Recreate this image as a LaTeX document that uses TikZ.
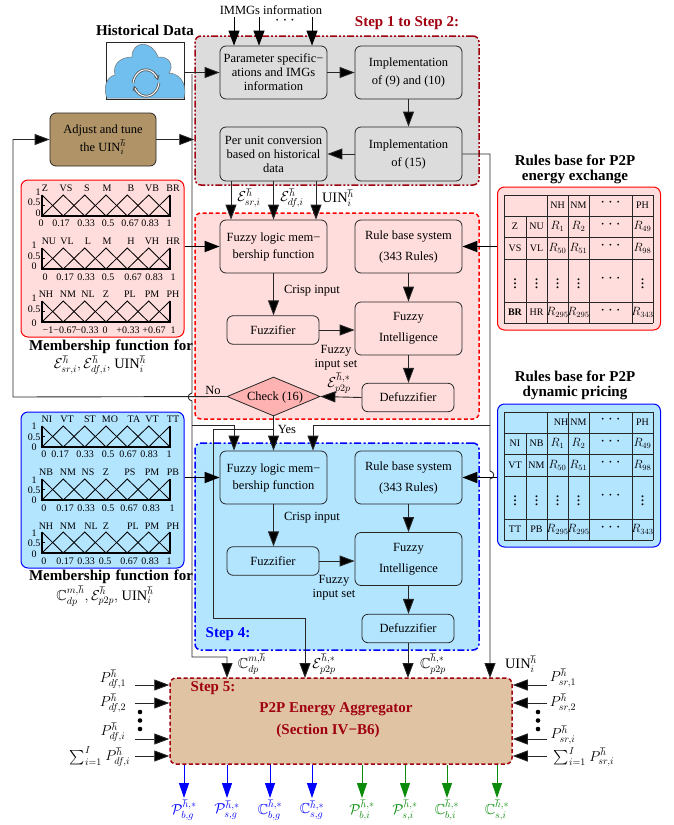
\documentclass[tikz,border=0pt]{standalone}
\usepackage{amssymb}
\usepackage{fontspec}
\setmainfont{Liberation Serif}
\usetikzlibrary{positioning,arrows.meta,shapes}

\definecolor{stepred}{RGB}{160,0,15}
\definecolor{graybg}{RGB}{220,220,220}
\definecolor{pinkbg}{RGB}{255,221,221}
\definecolor{bluebg}{RGB}{179,229,255}
\definecolor{adjbg}{RGB}{176,148,104}
\definecolor{aggbg}{RGB}{223,195,163}
\definecolor{skyblue}{RGB}{112,191,239}
\definecolor{outgreen}{RGB}{10,140,10}

\newcommand{\bigtxt}{\fontsize{12.5}{14}\selectfont}
\newcommand{\midtxt}{\fontsize{10}{11}\selectfont}
\newcommand{\headtxt}{\fontsize{15}{15}\selectfont\bfseries}
\newcommand{\mathbig}{\fontsize{14.4}{16}\selectfont}
\newcommand{\Pdf}[1]{$P^{\hbar}_{df,#1}$}
\newcommand{\Psr}[1]{$P^{\hbar}_{sr,#1}$}
\newcommand{\Uin}{UIN$^{\hbar}_{i}$}

% one membership plot, #1 = top of the plot
\newcommand{\mfgrid}[1]{
  \draw[mfline, line width=1.2pt] (42,#1) -- (42,#1+21) -- (170,#1+21) -- (170,#1);
  \draw[mfline] (42,#1) -- (63.3,#1+21) -- (84.7,#1) -- (106,#1+21) -- (127.3,#1) -- (148.7,#1+21) -- (170,#1);
  \draw[mfline] (42,#1+21) -- (63.3,#1) -- (84.7,#1+21) -- (106,#1) -- (127.3,#1+21) -- (148.7,#1) -- (170,#1+21);
  \draw[mfline] (42,#1+10.5) -- (45,#1+10.5);
}
\newcommand{\mftext}[2]{
  \foreach \px/\txt in {#2} \node[mflbl] (mf#1x\px) at (\px,#1) {\txt};
}
% rules table, #1 = top of the table
\newcommand{\rulestable}[7]{
  \begin{scope}[shift={(0,#1)}]
    \foreach \xa in {504,547,568,589,632,653} \draw[tabline] (\xa,0) -- (\xa,128);
    \draw[tabline] (526,21) -- (526,128);
    \foreach \ya in {0,21,42,64,107,128} \draw[tabline] (504,\ya) -- (653,\ya);
    \node[mflbl] (tab#1nm) at (578.5,10.5) {NM};
    \node[mflbl] (tab#1ph) at (642.5,10.5) {PH};
    \foreach \ya/\tl/\tr/\ra/\rb/\rc in {31.5/#2/#3/1/2/49,53/#4/#5/50/51/98,117.5/#6/#7/295/295/343} {
      \node[mflbl] (tab#1l\ra) at (515,\ya) {\tl};
      \node[mflbl] (tab#1r\ra) at (536.5,\ya) {\tr};
      \node[rtxt] (tab#1a\ra) at (557.5,\ya) {$R_{\ra}$};
      \node[rtxt] (tab#1b\ra) at (578.5,\ya) {$R_{\rb}$};
      \node[rtxt] (tab#1c\ra) at (642.5,\ya) {$R_{\rc}$};
      \node[dotstxt] (tab#1d\ra) at (610.5,\ya-2) {$\cdots$};
    }
    \node[dotstxt] (tab#1top) at (610.5,8) {$\cdots$};
    \node[dotstxt] (tab#1mid) at (610.5,84) {$\cdots$};
    \foreach \xa in {515,536.5,557.5,578.5,642.5} \node[dotstxt] (tab#1v\xa) at (\xa,86) {$\vdots$};
  \end{scope}
}

\begin{document}
\begin{tikzpicture}[
  x=1pt, y=-1pt,
  font=\bigtxt,
  boxnode/.style={rectangle, rounded corners=6pt, draw=black!85, line width=0.8pt, inner sep=0pt,
                  minimum width=107pt, minimum height=53pt, align=center},
  fuzznode/.style={boxnode, minimum width=92pt, minimum height=28.5pt},
  stepbox/.style={rectangle, rounded corners=6pt, inner sep=0pt, line width=1.5pt},
  panel/.style={rectangle, rounded corners=7pt, inner sep=0pt, line width=1pt, minimum width=163pt},
  arr/.style={-{Triangle[length=15pt,width=11pt,fill=black]}, draw=black!85, line width=0.9pt},
  thickarr/.style={arr, draw=black, line width=1.8pt},
  wire/.style={draw=black!85, line width=0.9pt},
  outarr/.style={line width=1pt},
  mfline/.style={draw=black, line width=0.85pt},
  tabline/.style={draw=black!85, line width=0.7pt},
  mflbl/.style={font=\midtxt, inner sep=0pt},
  rtxt/.style={font=\fontsize{12}{14}\selectfont, inner sep=0pt},
  dotstxt/.style={font=\fontsize{16}{17}\selectfont, inner sep=0pt},
  mathlbl/.style={font=\mathbig, inner sep=0pt},
  headlbl/.style={font=\headtxt, inner sep=0pt, align=center}
]
\useasboundingbox (0,0) rectangle (674,825);

% step boxes
\node[stepbox, fill=graybg, draw=stepred, dash pattern=on 7pt off 2pt on 2pt off 2pt on 2pt off 2pt,
      minimum width=284pt, minimum height=149pt] (stepa) at (337,110.5) {};
\node[stepbox, fill=pinkbg, draw=red, dash pattern=on 4pt off 2.5pt,
      minimum width=284pt, minimum height=206pt] (stepb) at (337,316) {};
\node[stepbox, fill=bluebg, draw=blue, dash pattern=on 7pt off 2.5pt on 2pt off 2.5pt,
      minimum width=284pt, minimum height=207pt] (stepc) at (337,546.5) {};
\node[stepbox, fill=aggbg, draw=stepred, dash pattern=on 4pt off 2.5pt, minimum width=342pt, minimum height=86pt,
      align=center, font=\headtxt\color{stepred}] (agg) at (341,721) {};
\node[font=\headtxt\color{stepred}, inner sep=0pt] (aggname) at (336,709) {P2P Energy Aggregator};
\node[font=\headtxt\color{stepred}, inner sep=0pt] (aggsec) at (328,731) {(Section IV−B6)};

\node[headlbl, text=stepred] (stepatxt) at (407,23) {Step 1 to Step 2:};
\node[headlbl, text=blue] (stepctxt) at (228,634) {Step 4:};
\node[headlbl, text=stepred] (stepdtxt) at (213,688) {Step 5:};

% historical data
\node[headlbl] (histtxt) at (145,30) {Historical Data};
\node[rectangle, draw=black!85, line width=0.8pt, inner sep=0pt, fill=white,
      minimum width=78pt, minimum height=57pt] (hist) at (145,70.5) {};
\draw[draw=black!55, line width=0.5pt, fill=skyblue] (107,98) .. controls (103,88) and (106,77) .. (115,75)
  .. controls (112,63) and (122,57) .. (132,57) .. controls (132,40) and (152,40) .. (158,57)
  .. controls (170,56) and (174,66) .. (169,73) .. controls (183,74) and (187,88) .. (184,98) -- cycle;
\draw[black!65, line width=2.6pt, -{Stealth[length=5pt,width=6pt]}] (159,83) arc[start angle=10, end angle=160, x radius=13, y radius=16];
\draw[black!65, line width=2.6pt, -{Stealth[length=5pt,width=6pt]}] (133,83) arc[start angle=190, end angle=340, x radius=13, y radius=16];
\draw[white, line width=1pt] (159,83) arc[start angle=10, end angle=150, x radius=13, y radius=16];
\draw[white, line width=1pt] (133,83) arc[start angle=190, end angle=330, x radius=13, y radius=16];

\node[boxnode, fill=adjbg, minimum width=106pt] (adjust) at (103,139.5) {Adjust and tune\\[4pt] the \Uin};

% step 1 to 2
\node[boxnode, fill=graybg] (param) at (273.5,72.5) {Parameter specific−\\ations and IMGs\\information};
\node[boxnode, fill=graybg] (implb) at (408.5,72.5) {Implementation\\[4pt] of (9) and (10)};
\node[boxnode, fill=graybg, minimum height=54pt] (perunit) at (273.5,154) {Per unit conversion\\based on historical\\data};
\node[boxnode, fill=graybg, minimum height=54pt] (impla) at (408.5,154) {Implementation\\[4pt] of (15)};

% energy exchange fuzzy block
\node[boxnode, fill=pinkbg] (flmr) at (273.5,246.5) {Fuzzy logic mem−\\[3pt] bership function};
\node[boxnode, fill=pinkbg] (rbr) at (408.5,246.5) {Rule base system\\[7pt] (343 Rules)};
\node[fuzznode, fill=pinkbg] (fuzr) at (273,330) {Fuzzifier};
\node[boxnode, fill=pinkbg] (fir) at (408.5,328.5) {Fuzzy\\[7pt] Intelligence};
\node[fuzznode, fill=pinkbg] (defr) at (408,397.5) {Defuzzifier};
\node[diamond, draw=black!85, fill=red!30, line width=0.8pt, inner sep=0pt, aspect=2.4,
      minimum width=93pt, minimum height=39pt] (check) at (273.5,396.5) {};
\node[inner sep=0pt] (checktxt) at (275,397) {Check (16)};

% dynamic pricing fuzzy block
\node[boxnode, fill=bluebg] (flmb) at (273.5,477.5) {Fuzzy logic mem−\\[3pt] bership function};
\node[boxnode, fill=bluebg] (rbb) at (408.5,477.5) {Rule base system\\[7pt] (343 Rules)};
\node[fuzznode, fill=bluebg] (fuzb) at (273,561) {Fuzzifier};
\node[boxnode, fill=bluebg] (fib) at (408.5,559) {Fuzzy\\[7pt] Intelligence};
\node[fuzznode, fill=bluebg] (defb) at (408,628.5) {Defuzzifier};

% membership panels
\node[panel, draw=red, fill=pinkbg, minimum height=157pt] (mfr) at (102.5,258.5) {};
\mfgrid{195}\mfgrid{248}\mfgrid{301}
\mftext{188}{45/Z,66/VS,87/S,107/M,131/B,152/VB,173/BR}
\mftext{223}{41/0,61/0.17,86/0.33,108/0.5,130/0.67,150/0.83,169/1}
\mftext{241}{49/NU,67/VL,88/L,107/M,131/H,152/VH,173/HR}
\mftext{277}{45/0,65/0.17,86/0.33,108/0.5,133/0.67,154/0.83,173/1}
\mftext{294}{46/NH,68/NM,88/NL,106/Z,130/PL,152/PM,173/PH}
\mftext{330}{48/−1,65/−0.67,87/−0.33,105/0,128/+0.33,154/+0.67,173/1}
\foreach \px/\py/\txt in {38/192/1,34/202/0.5,38/213/0,34/245/1,34/256/0.5,34/266/0,34/298/1,34/309/0.5,34/323/0}
  \node[mflbl] (axr\py) at (\px,\py) {\txt};
\node[headlbl, text width=164pt, align=justify] (mfrtxt) at (111,347) {Membership\hfill function\hfill for};
\node[mathlbl] (mfrvar) at (100,365) {$\mathcal{E}^{\hbar}_{sr,i},\mathcal{E}^{\hbar}_{df,i},$ UIN$^{\hbar}_{i}$};

\node[panel, draw=blue, fill=bluebg, minimum height=156pt] (mfb) at (102.5,490) {};
\mfgrid{426}\mfgrid{479}\mfgrid{532}
\mftext{419}{47/NI,67/VT,90/ST,110/MO,134/TA,152/VT,173/TT}
\mftext{454}{44/0,60/0.17,85/0.33,108/0.5,128/0.67,149/0.83,169/1}
\mftext{472}{46/NB,68/NM,88/NS,106/Z,130/PS,152/PM,173/PB}
\mftext{508}{44/0,65/0.17,86/0.33,108/0.5,129/0.67,151/0.83,172/1}
\mftext{526}{46/NH,68/NM,91/NL,106/Z,133/PL,152/PM,173/PH}
\mftext{561}{44/0,65/0.17,86/0.33,105/0.5,129/0.67,150/0.83,169/1}
\foreach \px/\py/\txt in {34/426/1,34/437/0.5,34/447/0,34/480/1,34/490/0.5,34/500/0,34/533/1,34/543/0.5,34/554/0}
  \node[mflbl] (axb\py) at (\px,\py) {\txt};
\node[headlbl, text width=164pt, align=justify] (mfbtxt) at (111,577) {Membership\hfill function\hfill for};
\node[mathlbl] (mfbvar) at (105,596) {$\mathbb{C}^{m,\hbar}_{dp},\mathcal{E}^{\hbar}_{p2p},$ UIN$^{\hbar}_{i}$};

% rule tables
\node[panel, draw=red, fill=pinkbg, minimum height=143pt] (rulesr) at (579,258.5) {};
\rulestable{195}{Z}{NU}{VS}{VL}{\textbf{BR}}{HR}
\node[mflbl] (nhr) at (557.5,205.5) {NH};
\node[panel, draw=blue, fill=bluebg, minimum height=143pt] (rulesb) at (579,475.5) {};
\rulestable{412}{NI}{NB}{VT}{NM}{TT}{PB}
\node[mflbl] (nhb) at (561,422.5) {NH};
\node[headlbl] (rulesrtxt) at (575,169) {Rules base for P2P\\energy exchange};
\node[headlbl] (rulesbtxt) at (575,385.5) {Rules base for P2P\\dynamic pricing};

% inputs at the top
\node[inner sep=0pt] (immg) at (271,10) {IMMGs information};
\node[dotstxt] (immgdots) at (285,21) {$\cdots$};
\coordinate (imma) at (234,17);
\coordinate (immb) at (259,17);
\coordinate (immc) at (312,17);
\foreach \c in {imma,immb,immc} \draw[arr, draw=black] (\c) -- (\c |- param.north);

% step 1 to 2 connectors
\draw[arr] (hist.east |- param.west) -- (param.west);
\draw[arr] (param.east) -- (implb.west);
\draw[arr] (implb.south) -- (impla.north);
\draw[arr] (impla.west) -- (perunit.east);
\draw[arr] (adjust.east) -- (stepa.west |- adjust.east);
\draw[arr] ([xshift=-42.5pt]perunit.south) -- ([xshift=-42.5pt]flmr.north);
\draw[arr] (perunit.south) -- (flmr.north);
\draw[arr] ([xshift=42.5pt]perunit.south) -- ([xshift=42.5pt]flmr.north);
\node[mathlbl] (lblsr) at (249,198) {$\mathcal{E}^{\hbar}_{sr,i}$};
\node[mathlbl] (lbldf) at (292,198) {$\mathcal{E}^{\hbar}_{df,i}$};
\node[mathlbl] (lbluin) at (338,198) {\Uin};

% energy exchange connectors
\draw[thickarr] (mfr.east |- flmr.west) -- (flmr.west);
\draw[thickarr] (rulesr.west |- rbr.east) -- (rbr.east);
\draw[arr] (flmr.south) -- (flmr.south |- fuzr.north);
\draw[arr] (rbr.south) -- (fir.north);
\draw[arr] (fuzr.east) -- (fir.west |- fuzr.east);
\draw[arr] (fir.south) -- (fir.south |- defr.north);
\draw[arr] (defr.west) -- (check.east);
\node[inner sep=0pt] (lblcrispr) at (312,291) {Crisp input};
\node[inner sep=0pt, align=center] (lblsetr) at (336,358) {Fuzzy\\input set};
\node[mathlbl] (lblpp) at (339,383) {$\mathcal{E}^{\hbar,*}_{p2p}$};
\node[inner sep=0pt] (lblno) at (213,390) {No};
\node[inner sep=0pt] (lblyes) at (287,429) {Yes};

% feedback and crossing lines
\draw[arr] (check.west) -- (13,397) |- (adjust.west);
\coordinate (hjoin) at (192,74);
\coordinate (aggcdp) at (227,678);
\coordinate (aggepp) at (305,678);
\coordinate (aggcpp) at (408,678);
\coordinate (agguin) at (490,678);
\draw[arr] (hjoin) -- (192,393) .. controls (187,394) and (187,400) .. (192,401) -- (192,657) -| (aggcdp);
\draw[arr] (192,425) -| ([xshift=-39.5pt]flmb.north);
\draw[arr] (check.south) -- (flmb.north);
\draw[arr] (273.5,429) -- (213,429) -- (213,618) -| (aggepp);
\draw[arr] (impla.east) -- (490,154) -- (490,471) .. controls (495,472) and (495,478) .. (490,479) -- (agguin);
\draw[arr] (490,425) -| ([xshift=39.5pt]flmb.north);

% dynamic pricing connectors
\draw[thickarr] (mfb.east |- flmb.west) -- (flmb.west);
\draw[thickarr] (rulesb.west |- rbb.east) -- (rbb.east);
\draw[arr] (flmb.south) -- (flmb.south |- fuzb.north);
\draw[arr] (rbb.south) -- (fib.north);
\draw[arr] (fuzb.east) -- (fib.west |- fuzb.east);
\draw[arr] (fib.south) -- (fib.south |- defb.north);
\draw[arr] (defb.south -| aggcpp) -- (aggcpp);
\node[inner sep=0pt] (lblcrispb) at (312,518) {Crisp input};
\node[inner sep=0pt, align=center] (lblsetb) at (334,587.5) {Fuzzy\\input set};

% aggregator labels and inputs
\node[mathlbl] (lblcdp) at (252,664) {$\mathbb{C}^{m,\hbar}_{dp}$};
\node[mathlbl] (lblepp) at (324,664) {$\mathcal{E}^{\hbar,*}_{p2p}$};
\node[mathlbl] (lblcpp) at (433,664) {$\mathbb{C}^{\hbar,*}_{p2p}$};
\node[mathlbl] (lbluinb) at (521,664) {\Uin};
\foreach \py in {685,703,739,756} {
  \coordinate (inl\py) at (135,\py);
  \coordinate (inr\py) at (547,\py);
  \draw[arr] (inl\py) -- (agg.west |- inl\py);
  \draw[arr] (inr\py) -- (agg.east |- inr\py);
}
\node[mathlbl] (pdfa) at (113,679) {\Pdf{1}};
\node[mathlbl] (pdfb) at (113,703) {\Pdf{2}};
\node[mathlbl] (pdfc) at (113,732) {\Pdf{i}};
\node[mathlbl] (pdfd) at (100,757) {$\sum_{i=1}^{I}$ \Pdf{i}};
\node[mathlbl] (psra) at (563,678) {\Psr{1}};
\node[mathlbl] (psrb) at (563,703) {\Psr{2}};
\node[mathlbl] (psrc) at (563,735) {\Psr{i}};
\node[mathlbl] (psrd) at (584,757) {$\sum_{i=1}^{I}$ \Psr{i}};
\foreach \py in {712,720.5,729} {
  \fill (140,\py) circle[radius=2.3];
  \fill (538,\py) circle[radius=2.3];
}

% aggregator outputs
\foreach \px/\nm/\txt in {184/pbg/{\mathcal{P}^{\hbar,*}_{b,g}},227/psg/{\mathcal{P}^{\hbar,*}_{s,g}},270/cbg/{\mathbb{C}^{\hbar,*}_{b,g}},312/csg/{\mathbb{C}^{\hbar,*}_{s,g}}} {
  \node[mathlbl, text=blue] (\nm) at (\px,810) {$\txt$};
  \draw[outarr, draw=blue, -{Triangle[length=15pt,width=10pt,fill=blue]}] (agg.south -| \nm) -- (\px,798);
}
\foreach \px/\nm/\txt in {362/pbi/{\mathcal{P}^{\hbar,*}_{b,i}},405/psi/{\mathcal{P}^{\hbar,*}_{s,i}},447/cbi/{\mathbb{C}^{\hbar,*}_{b,i}},497/csi/{\mathbb{C}^{\hbar,*}_{s,i}}} {
  \node[mathlbl, text=outgreen] (\nm) at (\px,810) {$\txt$};
  \draw[outarr, draw=outgreen, -{Triangle[length=15pt,width=10pt,fill=outgreen]}] (agg.south -| \nm) -- (\px,798);
}
\end{tikzpicture}
\end{document}
